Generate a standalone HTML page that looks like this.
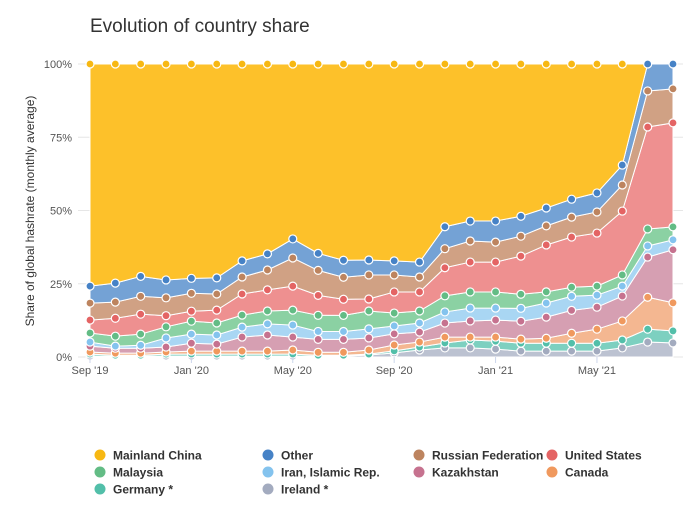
<!DOCTYPE html>
<html><head><meta charset="utf-8"><style>
body{margin:0;background:#fff;}
svg text{font-family:"Liberation Sans",sans-serif;}
</style></head><body>
<svg id="chart" width="700" height="509" xmlns="http://www.w3.org/2000/svg">
<text x="90" y="32" font-size="19" fill="#333">Evolution of country share</text>
<text transform="translate(34,211) rotate(-90)" text-anchor="middle" font-size="12" fill="#333">Share of global hashrate (monthly average)</text>
<g id="grid"></g><g id="areas"></g><g id="marks"></g><g id="axes"></g><g id="legend"></g>
</svg>
<script>
const months = ["Sep '19","Oct '19","Nov '19","Dec '19","Jan '20","Feb '20","Mar '20","Apr '20","May '20","Jun '20","Jul '20","Aug '20","Sep '20","Oct '20","Nov '20","Dec '20","Jan '21","Feb '21","Mar '21","Apr '21","May '21","Jun '21","Jul '21","Aug '21"];
const ireland = [0.3,0.3,0.3,0.3,0.3,0.3,0.3,0.3,0.3,0.3,0.3,0.7,1.4,2.4,3.1,3.1,2.7,2.0,2.0,2.0,2.0,3.1,5.1,4.8];
const germany = [0.7,0.3,0.3,0.7,0.7,0.7,0.7,0.7,0.7,0.3,0.3,0.3,0.7,1.0,1.7,2.7,2.7,2.7,2.7,2.7,2.7,2.7,4.4,4.1];
const canada = [0.7,0.7,0.7,0.7,1.0,1.0,1.0,1.0,1.4,1.0,1.0,1.4,2.0,1.7,2.0,1.0,1.4,1.4,1.7,3.4,4.8,6.5,10.9,9.6];
const kazakhstan = [2.0,1.7,1.7,1.7,2.7,2.4,4.8,5.5,4.4,4.4,4.4,4.1,3.8,3.4,4.8,5.5,5.8,6.1,7.2,7.8,7.5,8.5,13.7,18.1];
const iran = [1.4,0.7,1.0,3.1,3.1,3.1,3.4,3.8,4.1,2.7,2.7,3.1,2.7,3.1,3.8,4.4,4.1,4.4,4.8,4.8,4.1,3.4,3.8,3.4];
const malaysia = [3.1,3.4,3.8,3.8,4.4,4.1,4.1,4.4,5.1,5.5,5.5,6.1,4.4,4.1,5.5,5.5,5.5,4.8,3.8,3.1,3.1,3.8,5.8,4.4];
const unitedStates = [4.4,6.1,6.8,3.8,3.4,4.4,7.2,7.2,8.2,6.8,5.5,4.1,7.2,6.5,9.6,10.2,10.2,13.0,16.0,17.1,18.1,21.8,34.8,35.5];
const russia = [5.8,5.5,6.1,6.1,6.1,5.5,5.8,6.8,9.6,8.5,7.5,8.2,5.8,5.1,6.5,7.2,6.8,6.8,6.5,6.8,7.2,8.9,12.3,11.6];
const other = [5.8,6.5,6.8,6.1,5.1,5.5,5.5,5.5,6.5,5.8,5.8,5.1,4.8,5.1,7.5,6.8,7.2,6.8,6.1,6.1,6.5,6.8,9.2,8.5];
const china = [75.8,74.7,72.4,73.7,73.0,73.0,67.2,64.8,59.7,64.5,66.9,66.9,67.2,67.6,55.6,53.6,53.6,51.9,49.1,46.1,44.0,34.5,0,0];
const yTicks = [0,25,50,75,100];
const xTickIdx = [0,4,8,12,16,20];

const series = [
 {key:'ireland',name:'Ireland *',vals:ireland,line:'#a3abbf',fill:'#bcc2d1'},
 {key:'germany',name:'Germany *',vals:germany,line:'#52bfa9',fill:'#7dd0c0'},
 {key:'canada',name:'Canada',vals:canada,line:'#f0995e',fill:'#f4b791'},
 {key:'kazakhstan',name:'Kazakhstan',vals:kazakhstan,line:'#c6728f',fill:'#d69fb2'},
 {key:'iran',name:'Iran, Islamic Rep.',vals:iran,line:'#84c3ee',fill:'#a9d6f3'},
 {key:'malaysia',name:'Malaysia',vals:malaysia,line:'#63bc85',fill:'#8bd1a3'},
 {key:'us',name:'United States',vals:unitedStates,line:'#e46464',fill:'#ee9090'},
 {key:'russia',name:'Russian Federation',vals:russia,line:'#bd845f',fill:'#d0a184'},
 {key:'other',name:'Other',vals:other,line:'#4682c6',fill:'#74a2d5'},
 {key:'china',name:'Mainland China',vals:china,line:'#f7b813',fill:'#fdc12a'}
];
const NS='http://www.w3.org/2000/svg';
const X0=90,X1=673,Y0=357,Y100=64;
const xs=i=>X0+(X1-X0)*i/(months.length-1);
const ys=v=>Y0-(Y0-Y100)*v/100;
function mk(tag,attrs,parent){const e=document.createElementNS(NS,tag);for(const k in attrs)e.setAttribute(k,attrs[k]);parent.appendChild(e);return e;}
const grid=document.getElementById('grid'),areas=document.getElementById('areas'),marks=document.getElementById('marks'),axes=document.getElementById('axes'),legend=document.getElementById('legend');
yTicks.forEach(t=>{
 const l=mk('line',{x1:X0-12,x2:683,y1:ys(t),y2:ys(t),stroke:'#e6e6e6','stroke-width':1},grid);
 
 
 const tx=mk('text',{x:72,y:ys(t)+4,'text-anchor':'end','font-size':11,fill:'#555'},axes);
 tx.textContent=t+'%';
 
 
});
xTickIdx.forEach(i=>{
 const l=mk('line',{x1:xs(i),x2:xs(i),y1:Y0,y2:Y0+6,stroke:'#ccd6eb'},axes);
 
 
 const tx=mk('text',{x:xs(i),y:Y0+17,'text-anchor':'middle','font-size':11,fill:'#555'},axes);
 tx.textContent=months[i];
 
 
});
// normalize stacks to 100
const totals=months.map((m,i)=>series.reduce((s,se)=>s+se.vals[i],0));
let base=months.map(()=>0);
const tops=[];
series.forEach(se=>{
 const top=base.map((b,i)=>b+se.vals[i]*100/totals[i]);
 let d='M'+months.map((m,i)=>xs(i)+','+ys(top[i])).join('L');
 for(let i=months.length-1;i>=0;i--)d+='L'+xs(i)+','+ys(base[i]);
 d+='Z';
 const p=mk('path',{d:d,fill:se.fill,stroke:'#fff','stroke-width':1},areas);
 
 
 tops.push({se:se,top:top});
 base=top;
});
tops.forEach(o=>{
 o.top.forEach((v,i)=>{
  if(o.se.vals[i]<=0)return;
  const c=mk('circle',{cx:xs(i),cy:ys(v),r:4,fill:o.se.line,stroke:'#fff','stroke-width':1.2},marks);
  
  
 });
});
const legOrder=['china','other','russia','us','malaysia','iran','kazakhstan','canada','germany','ireland'];
const colX=[100,268,419,552],rowY=[455,472,489];
legOrder.forEach((k,j)=>{
 const se=series.find(s=>s.key===k);
 const g=mk('g',{},legend);
 
 
 const x=colX[j%4],y=rowY[Math.floor(j/4)];
 mk('circle',{cx:x,cy:y,r:5.5,fill:se.line},g);
 const t=mk('text',{x:x+13,y:y+4.5,'font-size':12,'font-weight':'bold',fill:'#333'},g);
 t.textContent=se.name;
});
</script>
</body></html>
